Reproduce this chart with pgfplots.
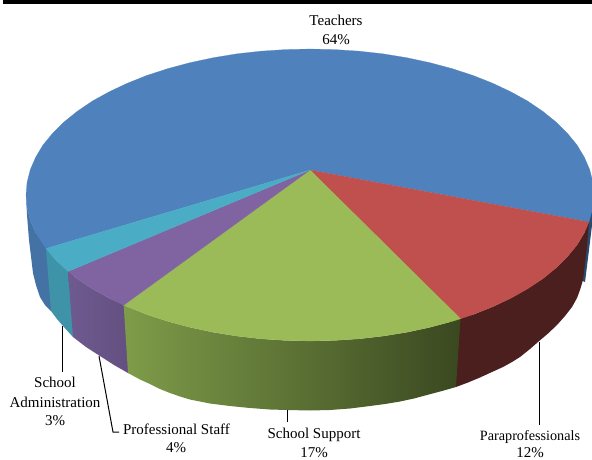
\documentclass[border=0pt]{standalone}
\usepackage{pgfplots}
\pgfplotsset{compat=1.18}
\usepackage{fontspec}
\setmainfont{Liberation Serif}
\definecolor{blueTop}{HTML}{4F81BD}
\definecolor{redTop}{HTML}{C0504D}
\definecolor{greenTop}{HTML}{9BBB59}
\definecolor{purpleTop}{HTML}{8064A2}
\definecolor{tealTop}{HTML}{4BACC6}
\definecolor{blueWall}{HTML}{4472A4}
\definecolor{blueEdge}{HTML}{2B4A70}
\definecolor{redWall}{HTML}{4B1F1E}
\definecolor{tealWall}{HTML}{3F93A9}
\definecolor{purpleWallA}{HTML}{6F5A90}
\definecolor{purpleWallB}{HTML}{644F80}
\definecolor{greenWallA}{HTML}{7E9C49}
\definecolor{greenWallB}{HTML}{5B6E33}
\definecolor{greenWallC}{HTML}{3A4820}
\tikzset{lab/.style={font=\fontsize{15}{18}\selectfont, text=black, inner sep=0pt}}
\begin{document}
\begin{tikzpicture}
\path[use as bounding box] (0,0) rectangle (592pt,460pt);
\begin{axis}[
  at={(0,0)}, anchor=south west,
  scale only axis, width=592pt, height=460pt,
  xmin=0, xmax=592, ymin=0, ymax=460, y dir=reverse,
  hide axis, clip=true,
]
% side walls of the disc, back to front so that neighbours overlap
\addplot[fill=blueEdge, draw=none] coordinates {
  (586,222) (592.9,207.7) (593,217) (589,250) (585,282) (580,280) (586,222)};
\addplot[fill=redWall, draw=none] coordinates {
  (450,318.8) (473,314.6) (492.6,306.8) (510.8,298.2) (527,288.9) (542.6,278.8) (556,268)
  (567.3,256.8) (577,245) (584.3,232.8) (589,222) (587,247) (583,280) (580,290) (577,298)
  (572,307) (565,316) (557,325) (548,333.5) (538,342) (530,349) (520,357) (512,362) (503,367)
  (492,372) (480,377.5) (468,382.5) (456,387) (450,380) (450,318.8)};
\addplot[fill=blueWall, draw=none] coordinates {
  (50,248.5) (35.7,232.8) (30.3,220.4) (27.1,207.7) (26,195) (27,215) (29,240) (33,273)
  (36,285) (40,297) (45,305) (51,311) (54,311) (50,248.5)};
\addplot[fill=tealWall, draw=none] coordinates {
  (46,248.5) (57,261.3) (72,271.5) (76,335) (73,337) (63,326) (57,319) (51,311) (46,248.5)};
\addplot[left color=purpleWallA, right color=purpleWallB, draw=none] coordinates {
  (68,271.5) (77.4,278.8) (92.5,288.9) (109.2,298.2) (126,305.2) (130,373) (128,373)
  (114,365) (100,356) (86,347) (73,337) (68,271.5)};
\addplot[left color=greenWallA, middle color=greenWallB, right color=greenWallC, draw=none] coordinates {
  (123.7,305.2) (147,314.6) (168,321.4) (190,327.3) (212.9,332.2) (236.4,336) (260.6,338.8)
  (285.3,340.4) (310,341) (334.7,340.4) (359.4,338.8) (383.6,336) (407.1,332.2) (430,327.3)
  (452,321.4) (460.5,318.8) (456,387) (442,391) (427,395) (414,398.5) (400,401.5) (385,404)
  (370,406) (350,408.5) (330,410) (310,410.5) (287,410) (270,409.5) (250,408) (230,406)
  (210,403.5) (200,401.5) (190,399.5) (180,396.5) (170,393) (160,389) (150,384) (140,379.5)
  (128,373) (123.7,305.2)};
% top face, one wedge per staff group
\addplot[fill=blueTop, draw=blueTop, line width=0.2pt] coordinates {
  (310,170) (589,222) (592.9,207.7) (594,195) (592.9,182.3) (589.7,169.6) (584.3,157.2) (577,145)
  (567.3,133.2) (556,122) (542.6,111.2) (527.5,101) (510.8,91.8) (492.6,83.2) (472.9,75.4)
  (452,68.6) (430,62.7) (407.1,57.8) (383.6,53.9) (359.4,51.2) (334.7,49.6) (310,49)
  (285.3,49.6) (260.6,51.2) (236.4,53.9) (212.9,57.8) (189.9,62.7) (168,68.6) (147,75.4)
  (127.4,83.2) (109.2,91.8) (92.5,101) (77.4,111.2) (64,122) (52.7,133.2) (43,145) (35.7,157.2)
  (30.3,169.6) (27.1,182.3) (26,195) (27.1,207.7) (30.3,220.4) (35.7,232.8) (46,248.5) (310,170)};
\addplot[fill=redTop, draw=redTop, line width=0.2pt] coordinates {
  (310,170) (460.5,318.8) (473,314.6) (492.6,306.8) (510.8,298.2) (527.5,288.9) (542.6,278.8)
  (556,268) (567.3,256.8) (577,245) (584.3,232.8) (589,222) (310,170)};
\addplot[fill=greenTop, draw=greenTop, line width=0.2pt] coordinates {
  (310,170) (123.7,305.2) (147,314.6) (168,321.4) (190,327.3) (212.9,332.2) (236.4,336) (260.6,338.8)
  (285.3,340.4) (310,341) (334.7,340.4) (359.4,338.8) (383.6,336) (407.1,332.2) (430,327.3)
  (452,321.4) (460.5,318.8) (310,170)};
\addplot[fill=purpleTop, draw=purpleTop, line width=0.2pt] coordinates {
  (310,170) (68,271.5) (77.4,278.8) (92.5,288.9) (109.2,298.2) (123.7,305.2) (310,170)};
\addplot[fill=tealTop, draw=tealTop, line width=0.2pt] coordinates {
  (310,170) (46,248.5) (57,261.3) (68,271.5) (310,170)};
% leader lines
\addplot[black, line width=1pt] coordinates {(539,342) (539,425)};
\addplot[black, line width=1pt] coordinates {(287,410) (287,422)};
\addplot[black, line width=1pt] coordinates {(99,356) (113,432) (119,432)};
\addplot[black, line width=1pt] coordinates {(62,326) (62,372)};
% rule along the top edge
\addplot[black, line width=4pt] coordinates {(3,2) (592,2)};
% labels
\node[lab] at (axis cs:336,20) {Teachers};
\node[lab] at (axis cs:336,40) {64\%};
\node[lab, font=\fontsize{14.2}{17}\selectfont] at (axis cs:530,437) {Paraprofessionals};
\node[lab] at (axis cs:530,453) {12\%};
\node[lab] at (axis cs:314,435) {School Support};
\node[lab] at (axis cs:314,453) {17\%};
\node[lab] at (axis cs:176.5,429) {Professional Staff};
\node[lab] at (axis cs:176,448) {4\%};
\node[lab] at (axis cs:55,382) {School};
\node[lab] at (axis cs:55,402) {Administration};
\node[lab] at (axis cs:55,421) {3\%};
\end{axis}
\end{tikzpicture}
\end{document}
